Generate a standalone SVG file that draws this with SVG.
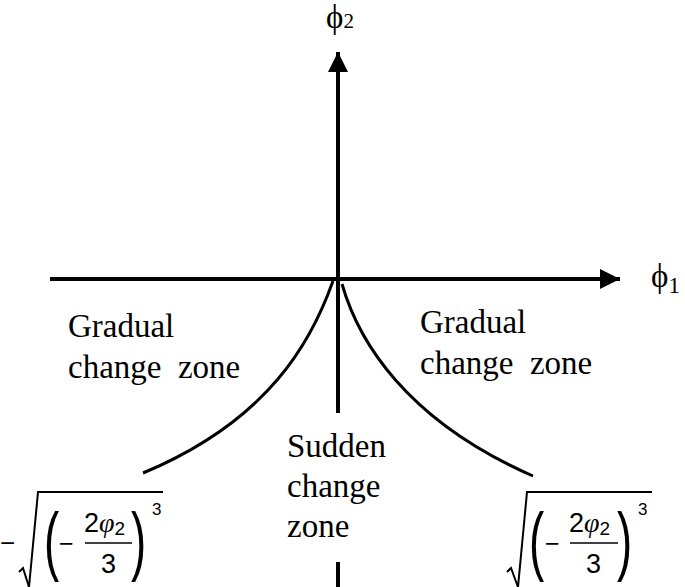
<svg xmlns="http://www.w3.org/2000/svg" width="685" height="587" viewBox="0 0 685 587">
<style>
.lbl{font-family:"Liberation Serif","Times New Roman",serif;font-size:33px;fill:#000}
.ax{stroke:#000;stroke-width:4;fill:none}
.cv{stroke:#000;stroke-width:3;fill:none}
.m{font-family:"Liberation Sans",Arial,sans-serif;fill:#000}
.mi{font-family:"Liberation Serif","Times New Roman",serif;font-style:italic;fill:#000}
.rad{stroke:#000;stroke-width:2;fill:none}
</style>
<defs>
<marker id="ah" markerWidth="5" markerHeight="5" refX="5" refY="2.5" orient="auto" markerUnits="strokeWidth">
<path d="M0,0 L5,2.5 L0,5 Z" fill="#000"/>
</marker>
</defs>
<g id="connectors">
<line class="ax" x1="50" y1="279" x2="620" y2="279" marker-end="url(#ah)"/>
<line class="ax" x1="338" y1="413" x2="338" y2="52" marker-end="url(#ah)"/>
<line class="ax" x1="338" y1="562" x2="338" y2="587"/>
<path class="cv" d="M333,281 C312,340 270,420 143,473"/>
<path class="cv" d="M342,284 C358,340 405,420 533,476"/>
</g>
<g id="axis-phi2">
<text class="lbl" x="326" y="28" font-size="25">ϕ<tspan font-size="21" dy="0">2</tspan></text>
</g>
<g id="axis-phi1">
<text class="lbl" x="651" y="287" font-size="30">ϕ<tspan font-size="23" dy="6">1</tspan></text>
</g>
<g id="gradual-left">
<text class="lbl" x="68" y="337">Gradual</text>
<text class="lbl" x="68" y="378" xml:space="preserve">change  zone</text>
</g>
<g id="gradual-right">
<text class="lbl" x="420" y="333">Gradual</text>
<text class="lbl" x="420" y="374" xml:space="preserve">change  zone</text>
</g>
<g id="sudden">
<text class="lbl" x="287" y="457">Sudden</text>
<text class="lbl" x="287" y="497">change</text>
<text class="lbl" x="287" y="537">zone</text>
</g>
<g id="formula-left">
<text class="m" x="0" y="552" font-size="26">−</text>
<polyline class="rad" points="19,572 23,568 29,587 38,492 163,492"/>
<text class="m" transform="translate(44,566) scale(0.6,1)" font-size="76">(</text>
<text class="m" x="59" y="552" font-size="25">−</text>
<text x="84" y="532"><tspan class="m" font-size="27">2</tspan><tspan class="mi" font-size="28">φ</tspan><tspan class="m" font-size="19" dy="3">2</tspan></text>
<line x1="85" y1="543" x2="132" y2="543" stroke="#000" stroke-width="1.5"/>
<text class="m" x="101" y="573" font-size="27">3</text>
<text class="m" transform="translate(131,566) scale(0.6,1)" font-size="76">)</text>
<text class="m" x="152" y="515" font-size="17">3</text>
</g>
<g id="formula-right">
<polyline class="rad" points="507,572 511,568 518,587 527,492 652,492"/>
<text class="m" transform="translate(529,566) scale(0.6,1)" font-size="76">(</text>
<text class="m" x="545" y="552" font-size="25">−</text>
<text x="569" y="532"><tspan class="m" font-size="27">2</tspan><tspan class="mi" font-size="28">φ</tspan><tspan class="m" font-size="19" dy="3">2</tspan></text>
<line x1="570" y1="543" x2="618" y2="543" stroke="#000" stroke-width="1.5"/>
<text class="m" x="586" y="573" font-size="27">3</text>
<text class="m" transform="translate(617,566) scale(0.6,1)" font-size="76">)</text>
<text class="m" x="638" y="515" font-size="17">3</text>
</g>
</svg>
